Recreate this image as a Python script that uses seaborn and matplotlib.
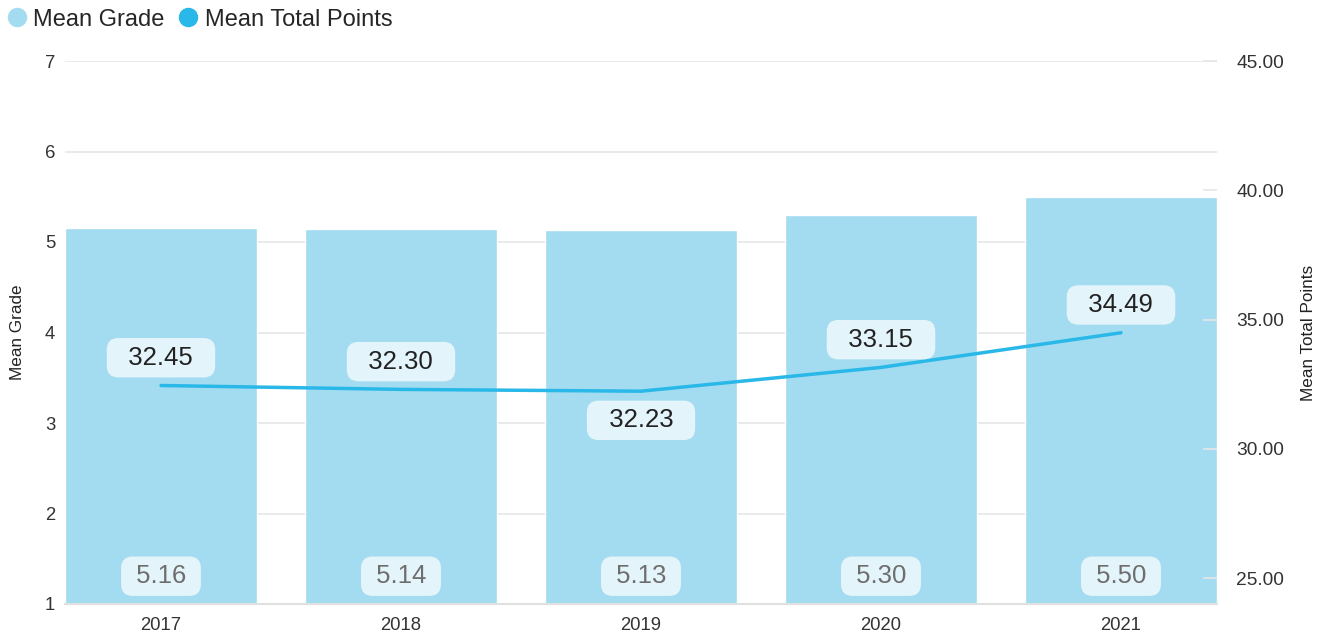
import numpy as np
import pandas as pd
import seaborn as sns
import matplotlib.pyplot as plt

# data
years = ['2017', '2018', '2019', '2020', '2021']
mean_grade = [5.16, 5.14, 5.13, 5.30, 5.50]
mean_points = [32.45, 32.30, 32.23, 33.15, 34.49]
label_up = [True, True, False, True, True]

df = pd.DataFrame({'Year': years, 'Mean Grade': mean_grade, 'Mean Total Points': mean_points})

bar_col = '#A3DCF0'
line_col = '#2AB8E8'
box_col = '#E4F4FB'

sns.set_style('white')
plt.rcParams['font.family'] = ['Liberation Sans', 'DejaVu Sans']

fig = plt.figure(figsize=(13.23, 6.36), dpi=100)
ax = fig.add_axes([65/1323, 32/636, 1152/1323, 543/636])

sns.barplot(data=df, x='Year', y='Mean Grade', color=bar_col, width=0.8,
            saturation=1, ax=ax, zorder=2)
ax.set_xlim(-0.4, 4.4)
ax.set_ylim(1, 7)
ax.set_yticks(range(1, 8))
ax.grid(axis='y', color='#E6E6E6', lw=1.2, zorder=0)
ax.set_axisbelow(True)
for s in ['top', 'right', 'left']:
    ax.spines[s].set_visible(False)
ax.spines['bottom'].set_color('#E0E0E0')
ax.spines['bottom'].set_linewidth(1.5)
ax.tick_params(axis='both', length=0, labelsize=13.3, colors='#333333', pad=7)
ax.tick_params(axis='x', pad=9)
ax.set_xlabel('')
ax.set_ylabel('Mean Grade', fontsize=12.3, color='#222222', labelpad=14)

box = dict(boxstyle='round,pad=0.3,rounding_size=0.45', fc=box_col, ec='none')
for i, v in enumerate(mean_grade):
    ax.annotate(f' {v:.2f} ', (i, 1), xytext=(0, 20), textcoords='offset points',
                ha='center', va='center', fontsize=18.5, color='#6E6E6E', zorder=5, bbox=box)

ax2 = ax.twinx()
sns.lineplot(x=np.arange(len(years)), y=mean_points, color=line_col, lw=2.5, ax=ax2, zorder=3)
ax2.set_ylim(24, 45)
ax2.set_yticks([25, 30, 35, 40, 45])
ax2.set_yticklabels([f'{t:.2f}' for t in [25, 30, 35, 40, 45]])
for s in ax2.spines.values():
    s.set_visible(False)
ax2.tick_params(axis='y', direction='in', length=10, width=1.2,
                labelsize=13.8, pad=14)
ax2.tick_params(axis='y', colors='#E6E6E6', labelcolor='#333333')
ax2.set_ylabel('Mean Total Points', fontsize=12.3, color='#222222', labelpad=12)

for i, v in enumerate(mean_points):
    off = 20 if label_up[i] else -21
    ax2.annotate(f'  {v:.2f}  ', (i, v), xytext=(0, off), textcoords='offset points',
                 ha='center', va='center', fontsize=18.5, color='#222222', zorder=6, bbox=box)

# legend
h1 = plt.Line2D([], [], marker='o', ls='', color=bar_col, markersize=13)
h2 = plt.Line2D([], [], marker='o', ls='', color=line_col, markersize=13)
fig.legend([h1, h2], ['Mean Grade', 'Mean Total Points'], loc='upper left',
           bbox_to_anchor=(0.0, 0.994), ncol=2, frameon=False, fontsize=17,
           handlelength=1.0, handletextpad=0.2, columnspacing=0.5,
           borderaxespad=0.1, borderpad=0.1)

fig.savefig('out.png', dpi=100)
